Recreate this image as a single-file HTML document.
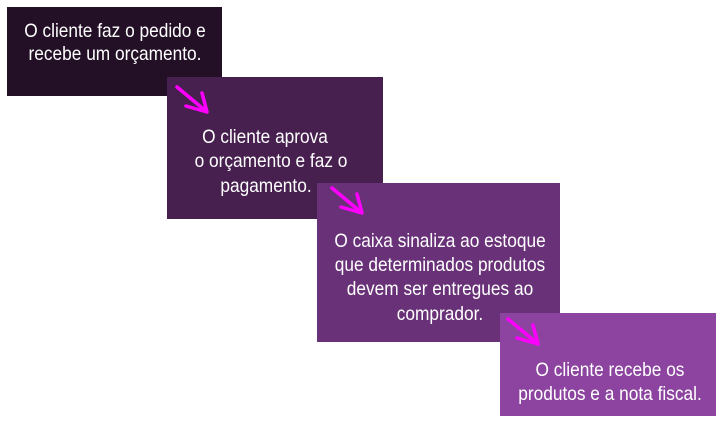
<!DOCTYPE html>
<html><head><meta charset="utf-8"><style>
html,body{margin:0;padding:0;background:#fff;}
svg{display:block;}
text{font-family:"Liberation Sans",sans-serif;font-size:19px;fill:#fff;text-anchor:middle;}
</style></head><body>
<svg width="721" height="424" viewBox="0 0 721 424" xmlns="http://www.w3.org/2000/svg">
<rect x="7" y="7" width="215" height="89" fill="#231027"/>
<rect x="167" y="77" width="216" height="142" fill="#472050"/>
<rect x="317" y="183" width="243" height="159" fill="#693278"/>
<rect x="500" y="313" width="216" height="103" fill="#8c44a0"/>

<g stroke="#ff00ff" stroke-width="3.5" fill="none" stroke-linecap="round" stroke-linejoin="round">
<path d="M177 87 L207 112 M186 106 L207 112 L202 93"/>
<path d="M332 188 L362 213 M341 207 L362 213 L357 194"/>
<path d="M508 319 L538 344 M517 338 L538 344 L533 325"/>
</g>

<g>
<text transform="translate(115,37) scale(0.91,1)">O cliente faz o pedido e</text>
<text transform="translate(115,60) scale(0.91,1)">recebe um orçamento.</text>

<text transform="translate(265,143) scale(0.91,1)">O cliente aprova</text>
<text transform="translate(271,167) scale(0.91,1)">o orçamento e faz o</text>
<text transform="translate(266,192) scale(0.91,1)">pagamento.</text>

<text transform="translate(440,247) scale(0.91,1)">O caixa sinaliza ao estoque</text>
<text transform="translate(440,271) scale(0.91,1)">que determinados produtos</text>
<text transform="translate(440,295) scale(0.91,1)">devem ser entregues ao</text>
<text transform="translate(440,320) scale(0.91,1)">comprador.</text>

<text transform="translate(610,376) scale(0.91,1)">O cliente recebe os</text>
<text transform="translate(610,400) scale(0.91,1)">produtos e a nota fiscal.</text>
</g>
</svg>
</body></html>
